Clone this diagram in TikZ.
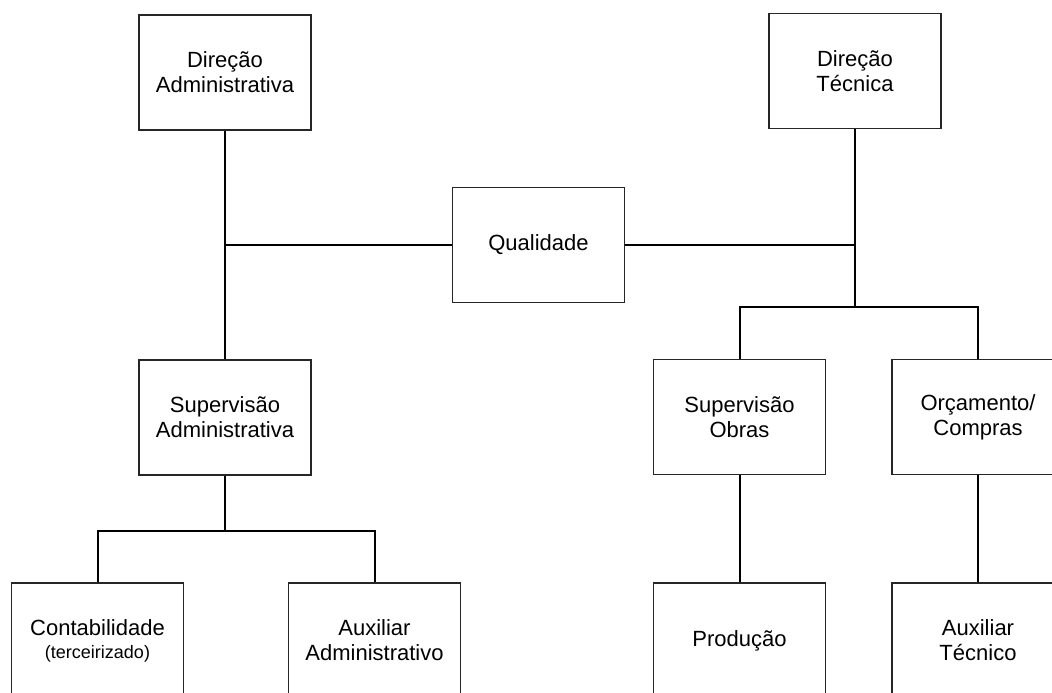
\documentclass[tikz,border=0pt]{standalone}
\usepackage{fontspec}
\setmainfont{Liberation Sans}
\begin{document}
\begin{tikzpicture}[x=1pt,y=-1pt,
  unit/.style={draw=black!85, line width=1.1pt, rectangle, minimum width=172pt,
    minimum height=115pt, inner sep=0pt, align=center,
    font=\fontsize{22}{25}\selectfont},
  link/.style={draw=black, line width=2pt},
  small/.style={font=\fontsize{18}{20}\selectfont}]
\useasboundingbox (0,0) rectangle (1052,693);
\clip (0,0) rectangle (1052,693);

% boxes
\node[unit] (da) at (225,72.5) {Direção\\Administrativa};
\node[unit] (dt) at (855,71) {Direção\\Técnica};
\node[unit] (q)  at (538.5,245) {Qualidade};
\node[unit] (sa) at (225,417.5) {Supervisão\\Administrativa};
\node[unit] (so) at (739.5,417) {Supervisão\\Obras};
\node[unit] (oc) at (978,417) {Orçamento/\\Compras};
\node[unit] (ct) at (97.5,640.5) {Contabilidade\\[-2pt]{\fontsize{18}{20}\selectfont(terceirizado)}};
\node[unit] (aa) at (374.5,640.5) {Auxiliar\\Administrativo};
\node[unit] (pr) at (739.5,640.5) {Produção};
\node[unit] (at) at (978,640.5) {Auxiliar\\Técnico};

% junction points
\coordinate (jl) at (da.south |- q.west);
\coordinate (jr) at (dt.south |- q.east);
\coordinate (jt) at (855,307);
\coordinate (js) at (225,531);

% connectors
\draw[link] (da.south) -- (sa.north);
\draw[link] (jl) -- (q.west);
\draw[link] (q.east) -- (jr);
\draw[link] (dt.south) -- (jt);
\draw[link] (so.north) |- (jt) -| (oc.north);
\draw[link] (sa.south) -- (js);
\draw[link] (ct.north) |- (js) -| (aa.north);
\draw[link] (so.south) -- (pr.north);
\draw[link] (oc.south) -- (at.north);
\end{tikzpicture}
\end{document}
